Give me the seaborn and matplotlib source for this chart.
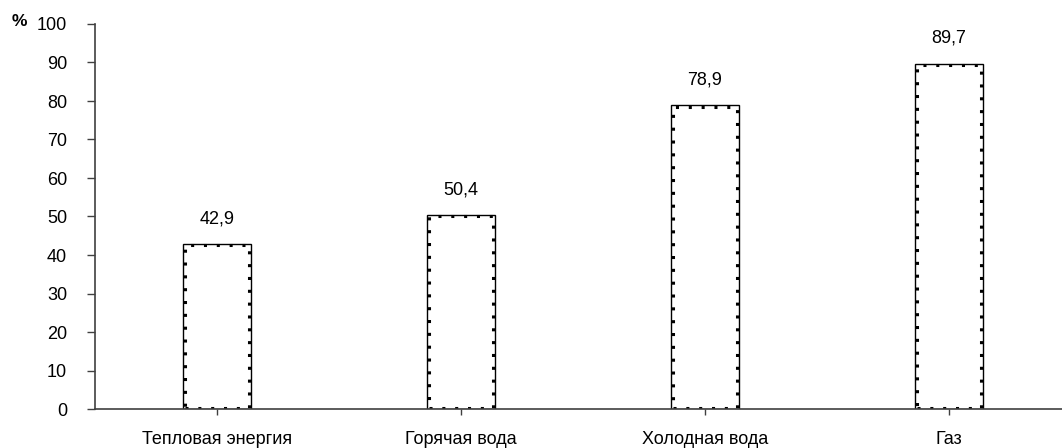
import matplotlib
matplotlib.use("Agg")
import matplotlib.pyplot as plt
import seaborn as sns
import pandas as pd
from matplotlib.patches import Rectangle

categories = ["Тепловая энергия", "Горячая вода", "Холодная вода", "Газ"]
values = [42.9, 50.4, 78.9, 89.7]
value_labels = ["42,9", "50,4", "78,9", "89,7"]
y_ticks = [0, 10, 20, 30, 40, 50, 60, 70, 80, 90, 100]

sns.set_theme(style="white")
plt.rcParams["font.family"] = ["Liberation Sans", "DejaVu Sans"]

df = pd.DataFrame({"category": categories, "value": values})

fig = plt.figure(figsize=(10.62, 4.48), dpi=100)
ax = fig.add_axes([95 / 1062, 39 / 448, 976 / 1062, 385 / 448])

sns.barplot(data=df, x="category", y="value", order=categories, color="white",
            edgecolor="black", linewidth=1.0, width=0.28, ax=ax, saturation=1)

# sparse dotted texture just inside each bar's outline
for patch in list(ax.patches):
    x0, w, h = patch.get_x(), patch.get_width(), patch.get_height()
    dx = w * 0.03
    dy = 0.35
    inner = Rectangle((x0 + dx, dy), w - 2 * dx, h - 2 * dy, fill=False,
                      edgecolor="black", linewidth=2.2,
                      linestyle=(0, (1.0, 3.2)), zorder=patch.get_zorder() + 0.1)
    ax.add_patch(inner)

ax.set_xlim(-0.5, 3.5)
ax.set_ylim(0, 100)
ax.set_yticks(y_ticks)
ax.set_yticklabels([str(t) for t in y_ticks], fontsize=13, color="black")
ax.tick_params(axis="x", labelsize=13, colors="black", length=4, width=1,
               direction="out", bottom=True, pad=12, color="#404040")
ax.tick_params(axis="y", length=6, width=1, direction="out", left=True,
               pad=14, color="#404040")
ax.set_xlabel("")
ax.set_ylabel("")

for s in ["top", "right"]:
    ax.spines[s].set_visible(False)
for s in ["left", "bottom"]:
    ax.spines[s].set_color("#404040")
    ax.spines[s].set_linewidth(1.2)

for patch, lab in zip(ax.patches, value_labels):
    x = patch.get_x() + patch.get_width() / 2
    h = patch.get_height()
    ax.annotate(lab, (x, h), xytext=(0, 12), textcoords="offset points",
                ha="center", va="bottom", fontsize=13, color="black")

fig.text(12 / 1062, 1 - 22 / 448, "%", fontsize=12.5, fontweight="bold",
         ha="left", va="center", color="black")

fig.savefig("out.png", dpi=100)
